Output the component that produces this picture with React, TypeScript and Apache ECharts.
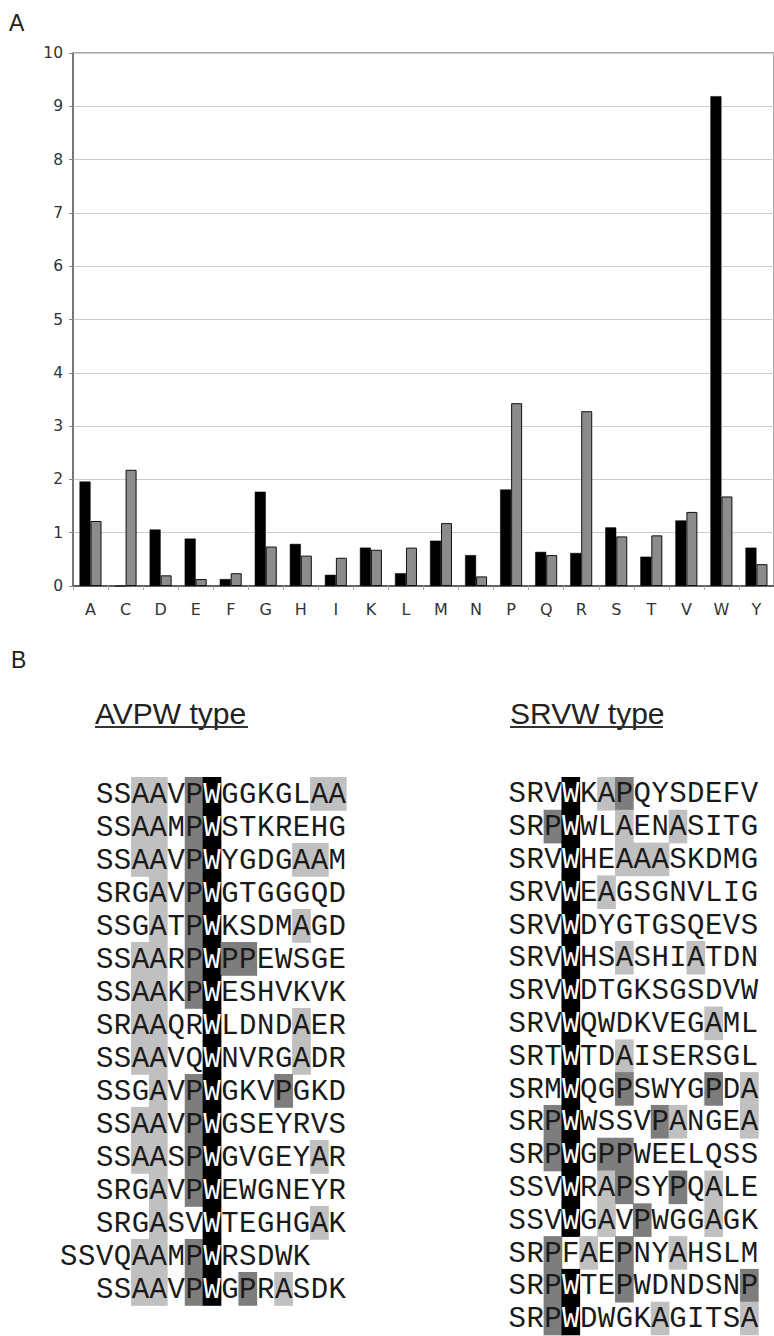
import React, { useEffect, useRef } from "react";
import * as echarts from "echarts";

// ---------- Panel A data ----------
const aminoAcids = ["A", "C", "D", "E", "F", "G", "H", "I", "K", "L", "M", "N", "P", "Q", "R", "S", "T", "V", "W", "Y"];
const blackValues = [1.96, 0, 1.06, 0.89, 0.13, 1.77, 0.79, 0.21, 0.72, 0.24, 0.85, 0.58, 1.81, 0.64, 0.62, 1.1, 0.55, 1.23, 9.19, 0.72];
const grayValues = [1.22, 2.18, 0.2, 0.13, 0.24, 0.74, 0.57, 0.53, 0.68, 0.72, 1.18, 0.18, 3.43, 0.58, 3.28, 0.93, 0.95, 1.39, 1.68, 0.41];
const yTicks = [0, 1, 2, 3, 4, 5, 6, 7, 8, 9, 10];

// ---------- Panel B data ----------
// shading: . none, l light gray, d dark gray, b black
const avpwSeqs = [
  "SSAAVPWGGKGLAA",
  "SSAAMPWSTKREHG",
  "SSAAVPWYGDGAAM",
  "SRGAVPWGTGGGQD",
  "SSGATPWKSDMAGD",
  "SSAARPWPPEWSGE",
  "SSAAKPWESHVKVK",
  "SRAAQRWLDNDAER",
  "SSAAVQWNVRGADR",
  "SSGAVPWGKVPGKD",
  "SSAAVPWGSEYRVS",
  "SSAASPWGVGEYAR",
  "SRGAVPWEWGNEYR",
  "SRGASVWTEGHGAK",
  "SSVQAAMPWRSDWK",
  "SSAAVPWGPRASDK",
];
const avpwShading = [
  "..ll.db.....ll",
  "..ll.db.......",
  "..ll.db....ll.",
  "...l.db.......",
  "...l.db....l..",
  "..ll.dbdd.....",
  "..ll.db.......",
  "..ll..b....l..",
  "..ll..b....l..",
  "...l.db...d...",
  "..ll.db.......",
  "..ll.db.....l.",
  "...l.db.......",
  "...l..b.....l.",
  "....ll.db.....",
  "..ll.db.d.l...",
];
const avpwOffsets = [0, 0, 0, 0, 0, 0, 0, 0, 0, 0, 0, 0, 0, 0, -2, 0];

const srvwSeqs = [
  "SRVWKAPQYSDEFV",
  "SRPWWLAENASITG",
  "SRVWHEAAASKDMG",
  "SRVWEAGSGNVLIG",
  "SRVWDYGTGSQEVS",
  "SRVWHSASHIATDN",
  "SRVWDTGKSGSDVW",
  "SRVWQWDKVEGAML",
  "SRTWTDAISERSGL",
  "SRMWQGPSWYGPDA",
  "SRPWWSSVPANGEA",
  "SRPWGPPWEELQSS",
  "SSVWRAPSYPQALE",
  "SSVWGAVPWGGAGK",
  "SRPFAEPNYAHSLM",
  "SRPWTEPWDNDSNP",
  "SRPWDWGKAGITSA",
];
const srvwShading = [
  "...b.ld.......",
  "..db..l..l....",
  "...b..lll.....",
  "...b.l........",
  "...b..........",
  "...b..l...l...",
  "...b..........",
  "...b.......l..",
  "...b..l.......",
  "...b..d....d.l",
  "..db....dl...l",
  "..db.dd.......",
  "...b.ld..d.l..",
  "...b.l.d...l..",
  "..d.l.d..l....",
  "..db..d......d",
  "..db....l....l",
];
const srvwOffsets = [0, 0, 0, 0, 0, 0, 0, 0, 0, 0, 0, 0, 0, 0, 0, 0, 0];

const shadeColors: Record<string, string> = { l: "#c0c0c0", d: "#7d7d7d", b: "#000000" };

type Cell = { col: number; row: number; ch: string; shade: string };

function buildCells(seqs: string[], shading: string[], offsets: number[]): Cell[] {
  const cells: Cell[] = [];
  seqs.forEach((s, r) => {
    for (let i = 0; i < s.length; i++) {
      cells.push({ col: i + 1 + offsets[r], row: r + 1, ch: s[i], shade: shading[r][i] });
    }
  });
  return cells;
}

function shadeSeries(cells: Cell[], idx: number) {
  const shaded = cells.filter((c) => c.shade !== ".");
  return {
    type: "custom",
    xAxisIndex: idx,
    yAxisIndex: idx,
    clip: false,
    z: 1,
    data: shaded.map((c) => [c.col, c.row]),
    renderItem: (params: any, api: any) => {
      const c = shaded[params.dataIndex];
      const pt = api.coord([api.value(0), api.value(1)]);
      const sz = api.size([1, 1]);
      return {
        type: "rect",
        shape: { x: pt[0] - sz[0] / 2 - 0.4, y: pt[1] - sz[1] / 2 - 1.5, width: sz[0] + 0.8, height: sz[1] + 0.8 },
        style: { fill: shadeColors[c.shade] },
      };
    },
  };
}

function letterSeries(cells: Cell[], idx: number) {
  return {
    type: "custom",
    xAxisIndex: idx,
    yAxisIndex: idx,
    clip: false,
    z: 2,
    data: cells.map((c) => [c.col, c.row]),
    renderItem: (params: any, api: any) => {
      const c = cells[params.dataIndex];
      const pt = api.coord([api.value(0), api.value(1)]);
      return {
        type: "text",
        style: {
          text: c.ch,
          x: pt[0],
          y: pt[1],
          align: "center",
          verticalAlign: "middle",
          fontFamily: "Liberation Mono",
          fontSize: 29,
          fill: c.shade === "b" ? "#ffffff" : "#1a1a1a",
        },
      };
    },
  };
}

export default function App() {
  const ref = useRef<HTMLDivElement>(null);
  useEffect(() => {
    if (!ref.current) return;
    const chart = echarts.init(ref.current, null, { renderer: "svg" });
    const avpwCells = buildCells(avpwSeqs, avpwShading, avpwOffsets);
    const srvwCells = buildCells(srvwSeqs, srvwShading, srvwOffsets);
    const hiddenAxis = { show: false, type: "value" as const };
    chart.setOption({
      animation: false,
      backgroundColor: "#ffffff",
      grid: [
        { left: 73, top: 53, width: 708, height: 533, show: true, borderColor: "#555", borderWidth: 1, backgroundColor: "transparent" },
        { left: 59.85, top: 778.5, width: 286.4, height: 528 },
        { left: 508.3, top: 778.5, width: 250, height: 561 },
      ],
      xAxis: [
        {
          type: "category",
          gridIndex: 0,
          data: aminoAcids,
          axisLine: { lineStyle: { color: "#444", width: 1.5 } },
          axisTick: { show: true, length: 4, lineStyle: { color: "#aaa" } },
          axisLabel: { color: "#333", fontSize: 16, fontFamily: "DejaVu Sans", margin: 15 },
        },
        { ...hiddenAxis, gridIndex: 1, min: -1.5, max: 14.5 },
        { ...hiddenAxis, gridIndex: 2, min: 0.5, max: 14.5 },
      ],
      yAxis: [
        {
          type: "value",
          gridIndex: 0,
          min: yTicks[0],
          max: yTicks[yTicks.length - 1],
          interval: 1,
          axisLine: { show: true, lineStyle: { color: "#666", width: 1.5 } },
          axisTick: { show: true, length: 4, lineStyle: { color: "#888" } },
          axisLabel: { color: "#333", fontSize: 15.5, fontFamily: "DejaVu Sans", margin: 10 },
          splitLine: { show: true, lineStyle: { color: "#cccccc", width: 1 } },
        },
        { ...hiddenAxis, gridIndex: 1, min: 0.5, max: 16.5, inverse: true },
        { ...hiddenAxis, gridIndex: 2, min: 0.5, max: 17.5, inverse: true },
      ],
      series: [
        {
          type: "bar",
          xAxisIndex: 0,
          yAxisIndex: 0,
          data: blackValues,
          barWidth: 11,
          barGap: "0%",
          itemStyle: { color: "#000000", borderColor: "#000", borderWidth: 0.5 },
        },
        {
          type: "bar",
          xAxisIndex: 0,
          yAxisIndex: 0,
          data: grayValues,
          barWidth: 11,
          barGap: "0%",
          itemStyle: { color: "#8c8c8c", borderColor: "#111", borderWidth: 1 },
        },
        shadeSeries(avpwCells, 1),
        letterSeries(avpwCells, 1),
        shadeSeries(srvwCells, 2),
        letterSeries(srvwCells, 2),
      ],
      graphic: [
        { type: "text", x: 9, y: 23, style: { text: "A", fontFamily: "Liberation Sans", fontSize: 23, fill: "#222", verticalAlign: "middle" } },
        { type: "text", x: 11, y: 660, style: { text: "B", fontFamily: "Liberation Sans", fontSize: 23, fill: "#222", verticalAlign: "middle" } },
        { type: "text", x: 95, y: 713, style: { text: "AVPW type", fontFamily: "Liberation Sans", fontSize: 30, fill: "#222", verticalAlign: "middle" } },
        { type: "line", shape: { x1: 95, y1: 727, x2: 248, y2: 727 }, style: { stroke: "#333", lineWidth: 2 } },
        { type: "text", x: 510, y: 713, style: { text: "SRVW type", fontFamily: "Liberation Sans", fontSize: 30, fill: "#222", verticalAlign: "middle" } },
        { type: "line", shape: { x1: 510, y1: 727, x2: 663, y2: 727 }, style: { stroke: "#333", lineWidth: 2 } },
      ],
    });
    return () => chart.dispose();
  }, []);
  return (
    <div
      ref={ref}
      style={{ position: "fixed", left: 0, top: 0, width: 774, height: 1336, background: "#fff" }}
    />
  );
}
